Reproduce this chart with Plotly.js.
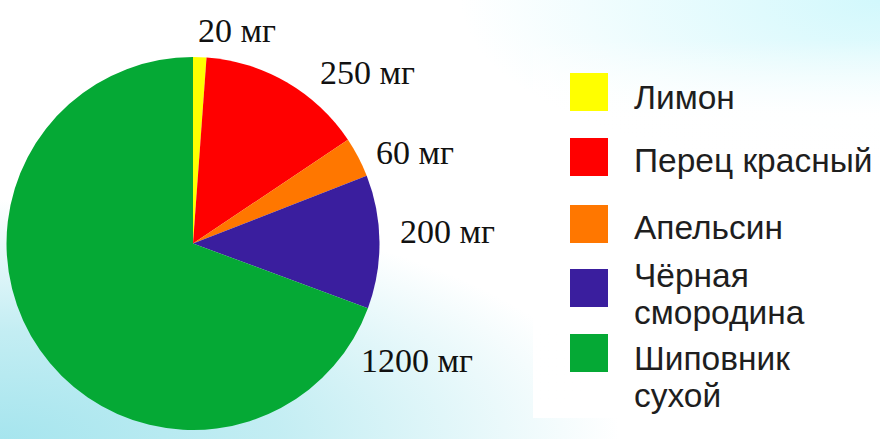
<!DOCTYPE html>
<html>
<head>
<meta charset="utf-8">
<script src="https://cdn.plot.ly/plotly-3.0.1.min.js"></script>
<style>
  html, body { margin:0; padding:0; }
  body {
    width:880px; height:439px; overflow:hidden; position:relative;
    background:
      radial-gradient(ellipse 620px 240px at 0% 100%, #a6e5ee 0%, rgba(170,230,238,0.7) 45%, rgba(255,255,255,0) 100%),
      radial-gradient(ellipse 420px 170px at 100% 0%, #d2f8fc 0%, rgba(214,248,252,0) 100%),
      #ffffff;
  }
  #panel {
    position:absolute; left:533px; top:40px; width:347px; height:378px;
    background: linear-gradient(to bottom, rgba(255,255,255,0) 0%, rgba(255,255,255,0.95) 20%, #ffffff 100%);
  }
  #chart { position:absolute; left:0; top:0; width:880px; height:439px; }
</style>
</head>
<body>
<div id="panel"></div>
<div id="chart"></div>
<script>
// Data
var categories = ["Лимон", "Перец красный", "Апельсин", "Чёрная смородина", "Шиповник сухой"];
var values = [20, 250, 60, 200, 1200];
var valueLabels = ["20 мг", "250 мг", "60 мг", "200 мг", "1200 мг"];
var legendLines = [["Лимон"], ["Перец красный"], ["Апельсин"], ["Чёрная", "смородина"], ["Шиповник", "сухой"]];

// Styles / layout (pixel positions)
var colors = ["#FFFF00", "#FF0000", "#FF7700", "#3A1E9E", "#05A935"];
var W = 880, H = 439;
var labelPos = [[237, 30], [367, 73], [415, 152], [447, 231], [417, 360]];
var squareTop = [73, 138, 205, 269, 334];
var squareSize = 38, squareLeft = 570;
var legendTextX = 632;
var legendLineY = [[97], [160], [227], [275, 312], [358, 395]];

function px(x) { return x / W; }
function py(y) { return 1 - y / H; }

var trace = {
  type: "pie",
  labels: categories,
  values: values,
  sort: false,
  direction: "clockwise",
  rotation: 0,
  textinfo: "none",
  hoverinfo: "label+value",
  marker: { colors: colors, line: { width: 0 } },
  showlegend: false,
  domain: { x: [px(6.5), px(379.5)], y: [py(430), py(57)] }
};

var annotations = [];
var shapes = [];
valueLabels.forEach(function (t, i) {
  annotations.push({
    text: t, xref: "paper", yref: "paper",
    x: px(labelPos[i][0]), y: py(labelPos[i][1]),
    xanchor: "center", yanchor: "middle", showarrow: false,
    font: { family: "Liberation Serif, Times New Roman, serif", size: 34, color: "#111111" }
  });
});
categories.forEach(function (c, i) {
  shapes.push({
    type: "rect", xref: "paper", yref: "paper",
    x0: px(squareLeft), x1: px(squareLeft + squareSize),
    y0: py(squareTop[i] + squareSize), y1: py(squareTop[i]),
    fillcolor: colors[i], line: { width: 0 }
  });
  legendLines[i].forEach(function (line, j) {
    annotations.push({
      text: line, xref: "paper", yref: "paper",
      x: px(legendTextX), y: py(legendLineY[i][j]),
      xanchor: "left", yanchor: "middle", showarrow: false,
      font: { family: "Liberation Sans, Arial, sans-serif", size: 33.5, color: "#1e1e1e" }
    });
  });
});

var layout = {
  width: W, height: H,
  margin: { l: 0, r: 0, t: 0, b: 0, pad: 0 },
  paper_bgcolor: "rgba(0,0,0,0)",
  plot_bgcolor: "rgba(0,0,0,0)",
  showlegend: false,
  annotations: annotations,
  shapes: shapes
};

Plotly.newPlot("chart", [trace], layout, { displayModeBar: false, staticPlot: true });
</script>
</body>
</html>
